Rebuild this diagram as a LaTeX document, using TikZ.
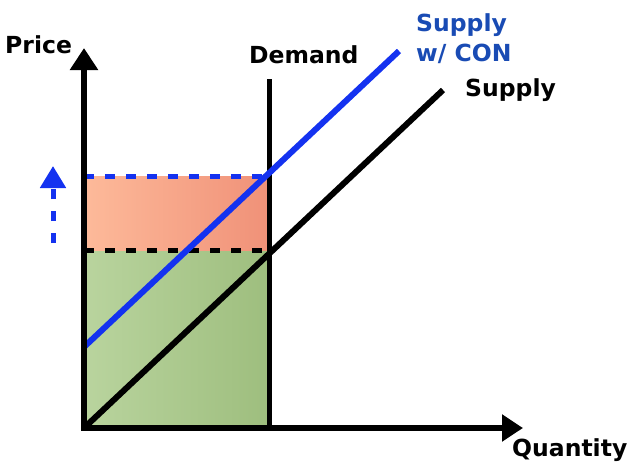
\documentclass[tikz,border=0pt]{standalone}
\usepackage{fontspec}
\setmainfont{DejaVu Sans}
\usetikzlibrary{positioning}
\usetikzlibrary{arrows.meta}

\definecolor{conblue}{RGB}{20,50,240}
\definecolor{labelblue}{RGB}{25,75,180}
\definecolor{salmonL}{RGB}{253,186,154}
\definecolor{salmonR}{RGB}{240,145,120}
\definecolor{greenL}{RGB}{185,212,158}
\definecolor{greenR}{RGB}{158,190,126}

\begin{document}
\begin{tikzpicture}[x=1pt, y=-1pt,
                axis/.style={line width=6.5pt, line join=miter, {Triangle[length=22pt, width=27pt]}-{Triangle[length=21pt, width=26pt]}},
                curve/.style={line width=6pt},
                level/.style={line width=5pt, dash pattern=on 10pt off 11pt},
                rise/.style={conblue, line width=5pt, dash pattern=on 10pt off 12pt, -{Triangle[length=22pt, width=25pt]}},
                label/.style={font=\fontsize{23.5}{30}\selectfont\bfseries, inner sep=0pt},
            ]
            \useasboundingbox (0,0) rectangle (630,466);

            % Coordinates
            \coordinate (origin) at (84,428);
            \coordinate (ytop)   at (84,48);
            \coordinate (xend)   at (523,428);
            \coordinate (demtop) at (269,79);
            \coordinate (dembot) at (269,428);
            \coordinate (suptop) at (443,90);
            \coordinate (conbot) at (84,347);
            \coordinate (contop) at (399,51);
            \coordinate (pold)   at (84,250);
            \coordinate (qold)   at (269,250);
            \coordinate (pnew)   at (84,176);
            \coordinate (qnew)   at (269,176);
            \coordinate (risebot) at (53,243);
            \coordinate (risetop) at (53,166);

            % Areas
            \shade[left color=greenL, right color=greenR] (origin) rectangle (qold);
            \shade[left color=salmonL, right color=salmonR] (pold) rectangle (qnew);

            % Nodes
            \node[label, anchor=base west]              (price)    at (5,53)    {Price};
            \node[label, anchor=base west]              (demand)   at (249,63)  {Demand};
            \node[label, anchor=base west]              (quantity) at (512,456) {Quantity};
            \node[label]                                (supply)   [right=22pt of suptop] {Supply};
            \node[label, labelblue, align=left, anchor=north west] (supplycon) at (416,13) {Supply\\w/ CON};

            %Lines
            \draw[level, black] (pold) -- (qold);
            \draw[level, conblue] (pnew) -- (qnew);
            \draw[curve, line width=5pt] (dembot) -- (demtop);
            \draw[curve] (origin) -- (suptop);
            \draw[curve, conblue] (conbot) -- (contop);
            \draw[axis] (ytop) -- (origin) -- (xend);
            \draw[rise] (risebot) -- (risetop);
        \end{tikzpicture}
\end{document}
